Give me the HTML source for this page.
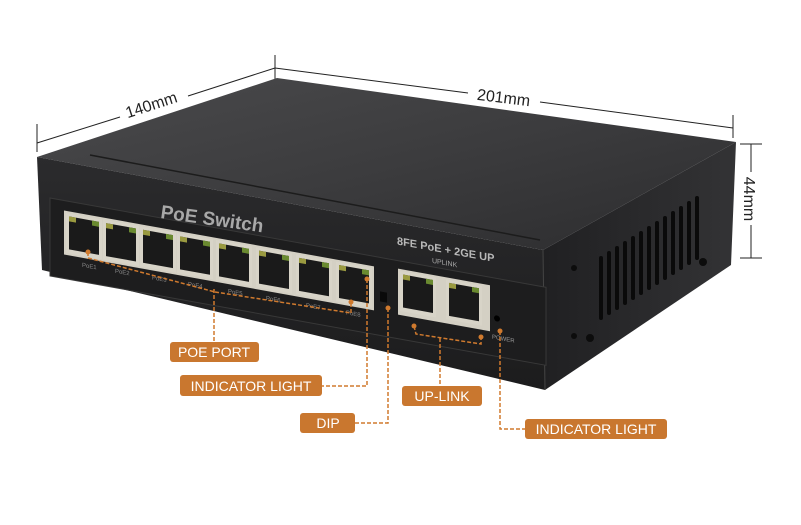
<!DOCTYPE html>
<html><head><meta charset="utf-8"><style>
html,body{margin:0;padding:0;background:#fff;width:801px;height:525px;overflow:hidden}
svg{display:block}
text{font-family:"Liberation Sans",sans-serif}
</style></head><body>
<svg width="801" height="525" viewBox="0 0 801 525" xmlns="http://www.w3.org/2000/svg">
<defs>
<linearGradient id="top" x1="0" y1="0" x2="1" y2="1">
<stop offset="0" stop-color="#4a4a4c"/><stop offset="0.5" stop-color="#3c3c3e"/><stop offset="1" stop-color="#2c2c2e"/>
</linearGradient>
<linearGradient id="front" x1="0" y1="0" x2="0" y2="1">
<stop offset="0" stop-color="#2b2b2d"/><stop offset="1" stop-color="#1c1c1d"/>
</linearGradient>
<linearGradient id="side" x1="0" y1="0" x2="1" y2="0">
<stop offset="0" stop-color="#202022"/><stop offset="1" stop-color="#333335"/>
</linearGradient>
<g id="port">
<rect x="0" y="0" width="36" height="40" fill="#d8d4c8"/>
<rect x="3" y="3" width="30" height="33" fill="#1a1a1a"/>
<rect x="3" y="3" width="7" height="5" fill="#9a9a40"/>
<rect x="26" y="3" width="7" height="5" fill="#6a8a30"/>
</g>
</defs>
<g stroke="#222" stroke-width="1" fill="none">
<line x1="37" y1="124" x2="37" y2="152"/>
<line x1="37" y1="143" x2="120" y2="117"/><line x1="188" y1="96" x2="275" y2="68"/>
<line x1="275" y1="55" x2="275" y2="82"/>
<line x1="275" y1="68" x2="468" y2="93"/><line x1="540" y1="102" x2="733" y2="128"/>
<line x1="733" y1="115" x2="733" y2="138"/>
<line x1="740" y1="144" x2="762" y2="144"/><line x1="740" y1="258" x2="762" y2="258"/>
<line x1="751" y1="144" x2="751" y2="172"/><line x1="751" y1="225" x2="751" y2="258"/>
</g>
<text x="153" y="110" font-size="16" fill="#222" transform="rotate(-18 153 110)" text-anchor="middle">140mm</text>
<text x="503" y="103" font-size="16" fill="#222" transform="rotate(7 503 103)" text-anchor="middle">201mm</text>
<text x="744" y="199" font-size="16" fill="#222" transform="rotate(90 744 199)" text-anchor="middle">44mm</text>
<polygon points="37,157 277,78 736,142 543,250" fill="url(#top)"/>
<polygon points="543,250 736,142 731,265 545,390" fill="url(#side)"/>
<polygon points="37,157 543,250 545,390 42,270" fill="url(#front)"/>
<line x1="90" y1="155" x2="540" y2="240" stroke="#1c1c1c" stroke-width="1.5"/>
<line x1="543" y1="250" x2="545" y2="390" stroke="#444" stroke-width="1"/>
<g stroke="#0a0a0a" stroke-width="4" stroke-linecap="round">
<line x1="601" y1="258" x2="601" y2="318"/><line x1="609" y1="253" x2="609" y2="313"/>
<line x1="617" y1="248" x2="617" y2="308"/><line x1="625" y1="243" x2="625" y2="303"/>
<line x1="633" y1="238" x2="633" y2="298"/><line x1="641" y1="233" x2="641" y2="293"/>
<line x1="649" y1="228" x2="649" y2="288"/><line x1="657" y1="223" x2="657" y2="283"/>
<line x1="665" y1="218" x2="665" y2="278"/><line x1="673" y1="213" x2="673" y2="273"/>
<line x1="681" y1="208" x2="681" y2="268"/><line x1="689" y1="203" x2="689" y2="263"/>
<line x1="697" y1="198" x2="697" y2="258"/>
</g>
<g fill="#0c0c0c"><circle cx="574" cy="268" r="3"/><circle cx="574" cy="336" r="3"/><circle cx="590" cy="338" r="4"/><circle cx="703" cy="262" r="4"/></g>
<g transform="matrix(1,0.18,0,1,0,-7)">
<rect x="50" y="196" width="496" height="78" fill="#1d1d1e" stroke="#383838" stroke-width="1"/>
<rect x="64" y="206" width="150" height="44" fill="#d4d0c4"/>
<rect x="214" y="206" width="160" height="44" fill="#d4d0c4"/>
<use href="#port" x="66" y="208"/><use href="#port" x="103" y="208"/><use href="#port" x="140" y="208"/><use href="#port" x="177" y="208"/>
<use href="#port" x="216" y="208"/><use href="#port" x="256" y="208"/><use href="#port" x="296" y="208"/><use href="#port" x="336" y="208"/>
<g font-size="6" fill="#888"><text x="82" y="259">PoE1</text><text x="115" y="259">PoE2</text><text x="152" y="259">PoE3</text><text x="188" y="259">PoE4</text><text x="228" y="259">PoE5</text><text x="266" y="259">PoE6</text><text x="306" y="259">PoE7</text><text x="346" y="259">PoE8</text></g>
<text x="397" y="180" font-size="11" font-weight="bold" fill="#b8b8b8">8FE PoE + 2GE UP</text>
<text x="432" y="192" font-size="7" fill="#aaa">UPLINK</text>
<rect x="398" y="204" width="92" height="46" fill="#d4d0c4"/>
<use href="#port" x="400" y="206"/><use href="#port" x="446" y="206"/>
<text x="492" y="257" font-size="6" fill="#999">POWER</text>
<circle cx="497" cy="236" r="3" fill="#000"/>
<rect x="380" y="230" width="7" height="10" fill="#0a0a0a"/>
</g>
<text x="160" y="218" font-size="19" font-weight="bold" fill="#a8a8a8" transform="rotate(8 160 218)">PoE Switch</text>
<g stroke="#d07a2e" stroke-width="1.5" fill="none" stroke-dasharray="4,2">
<polyline points="88,252 88,258 215,292"/>
<polyline points="215,292 351,313"/>
<line x1="351" y1="303" x2="351" y2="313"/>
<line x1="214" y1="289" x2="214" y2="342"/>
<polyline points="367,279 367,386 322,386"/>
<polyline points="388,308 388,423 355,423"/>
<polyline points="414,326 416,334 481,344 481,338"/>
<line x1="440" y1="338" x2="440" y2="386"/>
<polyline points="500,331 500,429 525,429"/>
</g>
<g fill="#d07a2e">
<circle cx="88" cy="252" r="2.5"/><circle cx="351" cy="302" r="2.5"/><circle cx="367" cy="279" r="2.5"/>
<circle cx="388" cy="308" r="2.5"/><circle cx="414" cy="326" r="2.5"/><circle cx="481" cy="337" r="2.5"/><circle cx="500" cy="331" r="2.5"/>
</g>
<g fill="#c9772f">
<rect x="170" y="342" width="89" height="20" rx="3"/>
<rect x="180" y="375" width="142" height="21" rx="3"/>
<rect x="300" y="413" width="55" height="20" rx="3"/>
<rect x="402" y="386" width="80" height="20" rx="3"/>
<rect x="525" y="419" width="142" height="20" rx="3"/>
</g>
<g fill="#fff" font-size="14" text-anchor="middle">
<text x="214" y="357">POE PORT</text>
<text x="251" y="391">INDICATOR LIGHT</text>
<text x="328" y="428">DIP</text>
<text x="442" y="401">UP-LINK</text>
<text x="596" y="434">INDICATOR LIGHT</text>
</g>
</svg>
</body></html>
